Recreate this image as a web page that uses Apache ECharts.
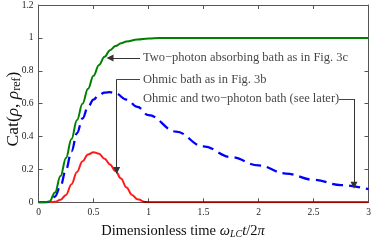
<!DOCTYPE html>
<html><head><meta charset="utf-8">
<script src="https://cdn.jsdelivr.net/npm/echarts@6/dist/echarts.min.js"></script>
<style>html,body{margin:0;padding:0;background:#fff}#c{width:374px;height:242px}</style>
</head><body><div id="c"></div>
<script>
// ---- data ----
const tGreen = [0,0.05,0.1,0.15,0.2,0.25,0.3,0.35,0.4,0.45,0.5,0.55,0.6,0.65,0.7,0.75,0.8,0.9,1.0,1.1,1.2,1.5,2,2.5,3];
const green  = [0,0,0.005,0.06,0.16,0.27,0.385,0.5,0.6,0.69,0.77,0.835,0.885,0.925,0.95,0.967,0.978,0.99,0.996,0.999,1,1,1,1,1];
const tBlue = [0,0.05,0.1,0.15,0.2,0.25,0.3,0.35,0.4,0.45,0.5,0.55,0.6,0.65,0.7,0.8,0.9,1.0,1.25,1.5,1.75,2,2.25,2.5,2.75,3];
const blue  = [0,0,0.003,0.035,0.1,0.2,0.31,0.42,0.51,0.58,0.625,0.653,0.667,0.67,0.662,0.625,0.58,0.53,0.43,0.34,0.275,0.224,0.175,0.137,0.105,0.08];
const tRed = [0,0.1,0.15,0.2,0.25,0.3,0.35,0.4,0.45,0.5,0.55,0.6,0.65,0.7,0.75,0.8,0.85,0.9,0.95,1.0,1.5,2,2.5,3];
const red  = [0,0,0.003,0.015,0.045,0.11,0.185,0.25,0.29,0.305,0.295,0.265,0.23,0.19,0.145,0.09,0.045,0.018,0.004,0,0,0,0,0];
const xTicks = ['0','0.5','1','1.5','2','2.5','3'];
const yTicks = ['0','0.2','0.4','0.6','0.8','1','1.2'];
// annotations: text, anchor (data coords), arrow path (data coords)
const annTexts = ['Two\u2212photon absorbing bath as in Fig. 3c','Ohmic bath as in Fig. 3b','Ohmic and two\u2212photon bath (see later)'];
const annAnchor = [[0.95,0.878],[0.95,0.748],[0.95,0.628]];
const annPaths = [
  [[0.923,0.878],[0.65,0.878]],
  [[0.923,0.748],[0.711,0.748],[0.711,0.194]],
  [[2.732,0.628],[2.868,0.628],[2.868,0.104]]
];

const serif = '"Liberation Serif","DejaVu Serif",serif';
const zip = (a,b) => a.map((v,i)=>[v,b[i]]);
const redSplit = tRed.indexOf(0.95);
// split annotation paths into plain segments and final arrowed segments
const plainSegs = [], arrowSegs = [];
annPaths.forEach(p => {
  for (let i = 0; i < p.length - 1; i++) {
    (i === p.length - 2 ? arrowSegs : plainSegs).push({coords:[p[i], p[i+1]]});
  }
});
const chart = echarts.init(document.getElementById('c'), null, {renderer:'canvas'});
const axisCol = '#555';
const baseAxis = {
  type:'value', axisLine:{show:true,onZero:false,lineStyle:{color:axisCol,width:1}},
  axisTick:{show:true,inside:true,length:4,lineStyle:{color:axisCol}},
  splitLine:{show:false}
};
chart.setOption({
  animation:false,
  grid:{left:38.5,right:5.5,top:2.3,bottom:39.7,containLabel:false},
  xAxis:[
    Object.assign({},baseAxis,{min:0,max:3,interval:0.5,position:'bottom',
      axisLabel:{margin:5,fontFamily:serif,fontSize:9.5,color:'#222',formatter:(v)=>xTicks[Math.round(v/0.5)]}}),
    Object.assign({},baseAxis,{min:0,max:3,interval:0.5,position:'top',axisLabel:{show:false}})
  ],
  yAxis:[
    Object.assign({},baseAxis,{min:0,max:1.2,interval:0.2,position:'left',
      axisLabel:{margin:5,fontFamily:serif,fontSize:9.5,color:'#222',formatter:(v)=>yTicks[Math.round(v/0.2)]}}),
    Object.assign({},baseAxis,{min:0,max:1.2,interval:0.2,position:'right',axisLabel:{show:false}})
  ],
  series:[
    {type:'line',name:'red',data:zip(tRed,red).slice(0,redSplit+1),showSymbol:false,smooth:0.4,smoothMonotone:'x',z:2,
      lineStyle:{color:'#ff1a1a',width:2}},
    {type:'line',name:'red-base',data:zip(tRed,red).slice(redSplit),showSymbol:false,z:2,
      lineStyle:{color:'#a00000',width:2}},
    {type:'line',name:'blue',data:zip(tBlue,blue),showSymbol:false,smooth:0.4,smoothMonotone:'x',z:3,
      lineStyle:{color:'#0000ff',width:2.3,type:[11,6]}},
    {type:'line',name:'green',data:zip(tGreen,green),showSymbol:false,smooth:0.4,smoothMonotone:'x',z:4,
      lineStyle:{color:'#008000',width:2}},
    {type:'lines',coordinateSystem:'cartesian2d',z:5,symbol:['none','none'],
      lineStyle:{color:'#444',width:1,opacity:1},data:plainSegs},
    {type:'lines',coordinateSystem:'cartesian2d',z:5,
      symbol:['none','triangle'],symbolSize:[4.5,7],
      lineStyle:{color:'#333',width:1,opacity:1},data:arrowSegs},
    {type:'scatter',symbolSize:0,z:6,silent:true,
      data:annAnchor.map((a,i)=>({value:a,name:annTexts[i]})),
      label:{show:true,position:'right',distance:0,formatter:(p)=>p.name,
        fontFamily:serif,fontSize:12.5,color:'#111'}}
  ],
  graphic:[
    {type:'text',x:13,y:109,rotation:Math.PI/2,
      style:{text:'{n|Cat(}{i|ρ}{n|, }{i|ρ}{s|ref}{n|)}',align:'center',verticalAlign:'middle',
        rich:{n:{fontFamily:serif,fontSize:17.5,lineHeight:20,verticalAlign:'middle',fill:'#111'},
              i:{fontFamily:serif,fontSize:17.5,fontStyle:'italic',lineHeight:20,verticalAlign:'middle',fill:'#111'},
              s:{fontFamily:serif,fontSize:12,lineHeight:12,verticalAlign:'bottom',fill:'#111'}}}},
    {type:'text',x:183,y:231,
      style:{text:'{n|Dimensionless time }{i|ω}{s|LC}{i|t}{n|/2}{i|π}',align:'center',verticalAlign:'middle',
        rich:{n:{fontFamily:serif,fontSize:14.5,lineHeight:17,verticalAlign:'middle',fill:'#111'},
              i:{fontFamily:serif,fontSize:14.5,fontStyle:'italic',lineHeight:17,verticalAlign:'middle',fill:'#111'},
              s:{fontFamily:serif,fontSize:10,fontStyle:'italic',lineHeight:10,verticalAlign:'bottom',fill:'#111'}}}}
  ]
});
</script></body></html>
